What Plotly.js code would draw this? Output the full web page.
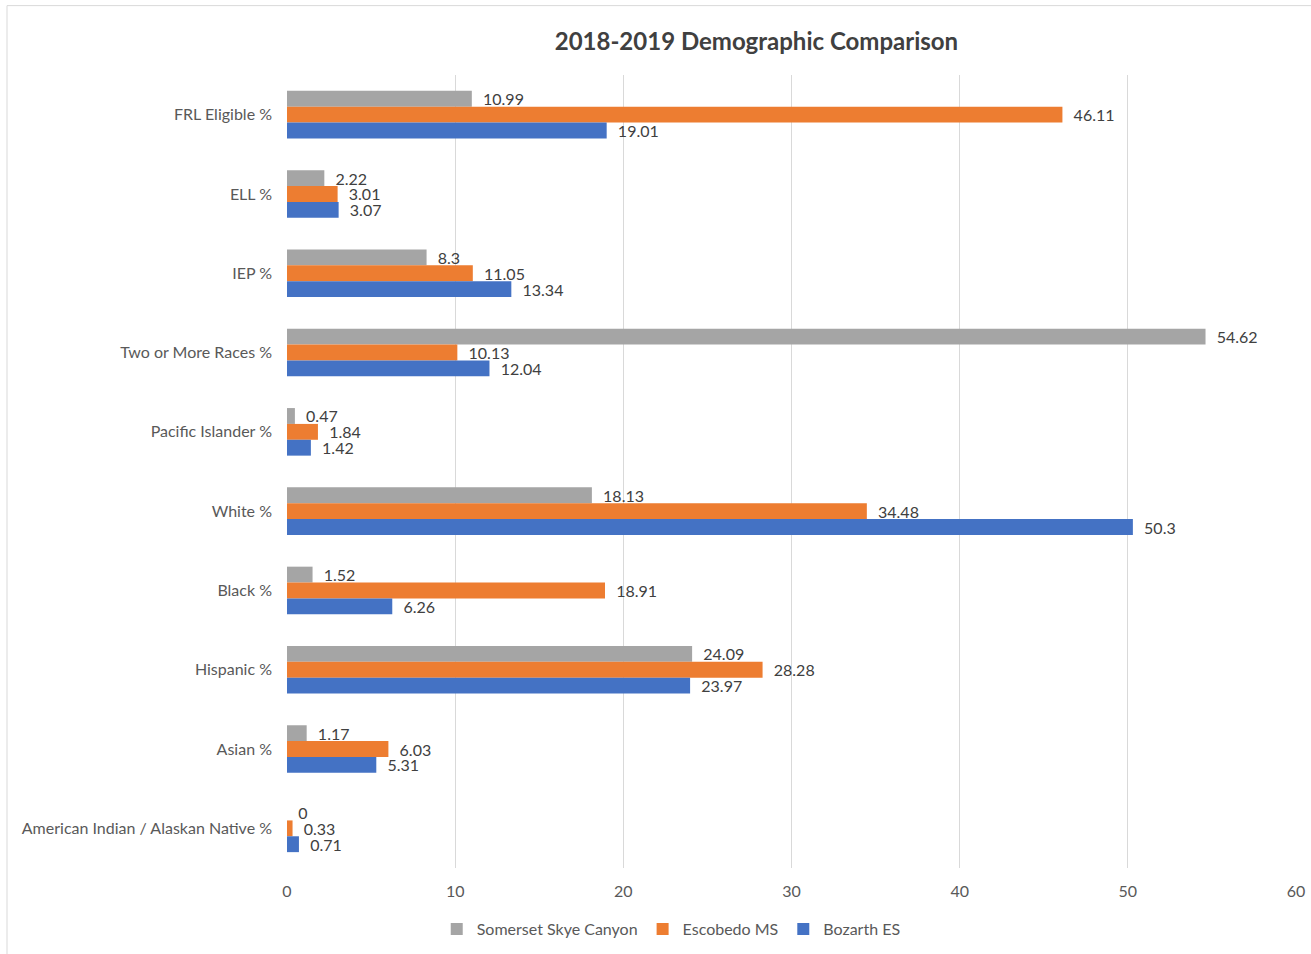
<!DOCTYPE html>
<html>
<head>
<meta charset="utf-8">
<script src="https://cdn.plot.ly/plotly-3.0.1.min.js"></script>
<style>
html,body{margin:0;padding:0;background:#fff;}
#chart{width:1311px;height:954px;}
</style>
</head>
<body>
<div id="chart"></div>
<script>
const categories = ["FRL Eligible %", "ELL %", "IEP %", "Two or More Races %", "Pacific Islander %",
  "White %", "Black %", "Hispanic %", "Asian %", "American Indian / Alaskan Native %"];
const somerset = [10.99, 2.22, 8.3, 54.62, 0.47, 18.13, 1.52, 24.09, 1.17, 0];
const escobedo = [46.11, 3.01, 11.05, 10.13, 1.84, 34.48, 18.91, 28.28, 6.03, 0.33];
const bozarth = [19.01, 3.07, 13.34, 12.04, 1.42, 50.3, 6.26, 23.97, 5.31, 0.71];
const seriesNames = ["Somerset Skye Canyon", "Escobedo MS", "Bozarth ES"];
const xTicks = [0, 10, 20, 30, 40, 50, 60];

const colors = ["#a5a5a5", "#ed7d31", "#4472c4"];
const font = "Lato, 'Open Sans', sans-serif";
const series = [somerset, escobedo, bozarth];

const traces = series.map((vals, i) => ({
  type: "bar",
  orientation: "h",
  name: seriesNames[i],
  y: categories,
  x: vals,
  marker: {color: colors[i]},
  text: vals.map(v => "\u00a0\u00a0" + String(v)),
  textposition: "outside",
  constraintext: "none",
  cliponaxis: false,
  textfont: {family: font, size: 16, color: "#404040"},
  hoverinfo: "x+name"
}));

const layout = {
  width: 1311, height: 954,
  margin: {l: 287, r: 15, t: 75, b: 86},
  paper_bgcolor: "#fff", plot_bgcolor: "#fff",
  barmode: "group",
  bargap: 0.4,
  bargroupgap: 0,
  font: {family: font, color: "#595959", size: 16},
  title: {
    text: "<b>2018-2019 Demographic Comparison</b>",
    font: {family: font, size: 24, color: "#404040"},
    x: 0.577, xref: "container", xanchor: "center",
    y: 0.956, yref: "container", yanchor: "middle"
  },
  xaxis: {
    range: [0, 60], tickvals: xTicks, ticktext: xTicks.map(String),
    showgrid: true, gridcolor: "#d9d9d9", gridwidth: 1,
    zeroline: false, showline: false, ticks: "",
    tickfont: {family: font, size: 16, color: "#595959"},
    ticklabelstandoff: 12, fixedrange: true
  },
  yaxis: {
    type: "category", autorange: "reversed",
    showgrid: false, zeroline: false, showline: false, ticks: "",
    ticklabelstandoff: 14,
    tickfont: {family: font, size: 16, color: "#595959"}
  },
  legend: {
    orientation: "h", x: 0.512, xref: "container", xanchor: "center",
    y: 0.026, yref: "container", yanchor: "middle",
    font: {family: font, size: 16, color: "#595959"},
    itemwidth: 30
  },
  shapes: [
    {type: "line", xref: "paper", yref: "paper", x0: -0.2775, x1: 1.1, y0: 1.0875, y1: 1.0875,
     line: {color: "#d9d9d9", width: 1}},
    {type: "line", xref: "paper", yref: "paper", x0: -0.2775, x1: -0.2775, y0: 1.0875, y1: -0.2,
     line: {color: "#d9d9d9", width: 1}}
  ]
};

Plotly.newPlot("chart", traces, layout, {displayModeBar: false, staticPlot: true});
</script>
</body>
</html>
